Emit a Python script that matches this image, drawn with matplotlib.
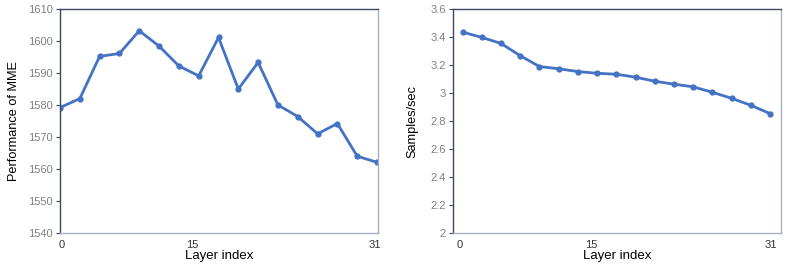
import numpy as np
import matplotlib
matplotlib.use('Agg')
import matplotlib.pyplot as plt

plt.rcParams['font.family'] = ['Liberation Sans', 'DejaVu Sans']

# layer positions (17 sampled layers, plotted evenly)
points = np.arange(17)
mme = [1579.2, 1582.0, 1595.2, 1596.1, 1603.2, 1598.4, 1592.2, 1589.1, 1601.1,
       1585.0, 1593.3, 1580.0, 1576.4, 1571.0, 1574.2, 1564.0, 1562.1]
speed = [3.435, 3.397, 3.354, 3.266, 3.189, 3.173, 3.153, 3.141, 3.134,
         3.113, 3.084, 3.063, 3.044, 3.005, 2.962, 2.912, 2.853]
xtick_labels = ['0', '15', '31']

blue = '#4472C4'
dark = '#3d4860'
light = '#a9b1c6'


def style(ax, values, ylim, yticks, ylabel, xlim, xtick_pos):
    ax.plot(points, values, color=blue, lw=2.0, marker='o', ms=3.5,
            markerfacecolor=blue, markeredgecolor=blue)
    ax.set_xlim(*xlim)
    ax.set_ylim(*ylim)
    ax.set_yticks(yticks)
    ax.set_xticks(xtick_pos)
    ax.set_xticklabels(xtick_labels)
    ax.tick_params(axis='y', colors='#808080', labelsize=8, length=3,
                   width=0.8, pad=2)
    ax.tick_params(axis='y', color=dark)
    ax.tick_params(axis='x', length=0, labelsize=8, labelcolor='#333333', pad=5)
    ax.spines['left'].set_color(dark)
    ax.spines['top'].set_color(dark)
    ax.spines['right'].set_color(light)
    ax.spines['bottom'].set_color(light)
    for s in ax.spines.values():
        s.set_linewidth(1.0)
    ax.set_xlabel('Layer index', fontsize=9.5, labelpad=0)
    ax.set_ylabel(ylabel, fontsize=9.2)


fig = plt.figure(figsize=(7.89, 2.70), dpi=100)

ax1 = fig.add_axes([60/789, 37/270, 318/789, 224/270])
style(ax1, mme, (1540, 1610), np.arange(1540, 1611, 10), 'Performance of MME',
      (0, 16.05), [0.1, 6.7, 15.9])
ax1.yaxis.set_label_coords(-0.126, 0.5)

ax2 = fig.add_axes([453/789, 37/270, 328/789, 224/270])
style(ax2, speed, (2, 3.6), np.arange(2, 3.61, 0.2), 'Samples/sec',
      (-0.5, 16.57), [-0.14, 6.72, 16.04])
ax2.set_yticklabels(['2', '2.2', '2.4', '2.6', '2.8', '3', '3.2', '3.4', '3.6'])
ax2.yaxis.set_label_coords(-0.104, 0.5)

fig.savefig('out.png', dpi=100)
